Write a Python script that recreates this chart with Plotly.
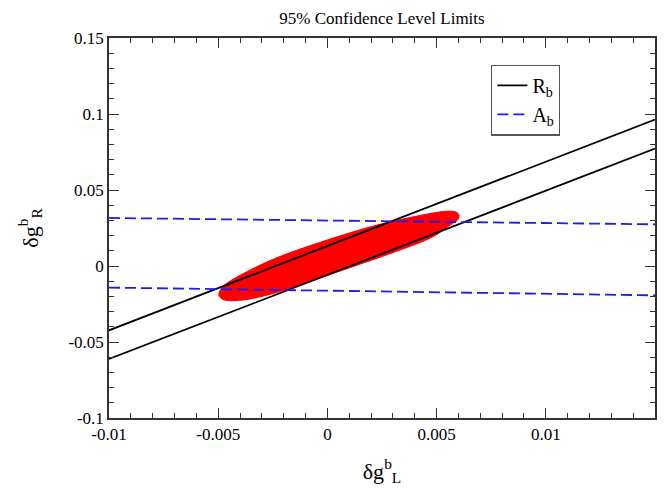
import plotly.graph_objects as go

# Axis ranges
x_range = [-0.01, 0.015]
y_range = [-0.1, 0.15]

# R_b band boundary lines (endpoints at x = -0.01 and x = 0.015)
rb_x = [-0.01, 0.015]
rb_upper_y = [-0.0423, 0.0963]
rb_lower_y = [-0.0612, 0.0772]

# A_b band boundary lines
ab_x = [-0.01, 0.015]
ab_upper_y = [0.0316, 0.0274]
ab_lower_y = [-0.0142, -0.0193]

# 95% CL allowed region outline
region_x = [-0.00498, -0.00478, -0.00356, -0.00204, -0.00052, 0.00100, 0.00253,
            0.00405, 0.00542, 0.00588, 0.00603, 0.00595, 0.00572, 0.00481,
            0.00329, 0.00177, 0.00024, -0.00128, -0.00280, -0.00402, -0.00478,
            -0.00498]
region_y = [-0.0182, -0.0134, -0.0028, 0.0070, 0.0147, 0.0217, 0.0279,
            0.0327, 0.0360, 0.0355, 0.0334, 0.0301, 0.0279, 0.0191,
            0.0103, 0.0026, -0.0050, -0.0127, -0.0193, -0.0226, -0.0221,
            -0.0193]

x_tickvals = [-0.01, -0.005, 0, 0.005, 0.01]
x_ticktext = ["-0.01", "-0.005", "0", "0.005", "0.01"]
y_tickvals = [-0.1, -0.05, 0, 0.05, 0.1, 0.15]
y_ticktext = ["-0.1", "-0.05", "0", "0.05", "0.1", "0.15"]

FONT = "Liberation Serif, Times New Roman, serif"

fig = go.Figure()

fig.add_trace(go.Scatter(
    x=region_x, y=region_y, mode="lines", fill="toself",
    fillcolor="#ff0000", line=dict(color="#ff0000", width=1, shape="spline"),
    showlegend=False, hoverinfo="skip"))

fig.add_trace(go.Scatter(
    x=rb_x, y=rb_upper_y, mode="lines", name="R<sub>b</sub>",
    line=dict(color="black", width=1.8), legendgroup="rb"))
fig.add_trace(go.Scatter(
    x=rb_x, y=rb_lower_y, mode="lines", name="R<sub>b</sub>",
    line=dict(color="black", width=1.8), legendgroup="rb", showlegend=False))

fig.add_trace(go.Scatter(
    x=ab_x, y=ab_upper_y, mode="lines", name="A<sub>b</sub>",
    line=dict(color="#1a1aff", width=1.8, dash="11px,5px"), legendgroup="ab"))
fig.add_trace(go.Scatter(
    x=ab_x, y=ab_lower_y, mode="lines", name="A<sub>b</sub>",
    line=dict(color="#1a1aff", width=1.8, dash="11px,5px"), legendgroup="ab",
    showlegend=False))

axis_common = dict(
    showgrid=False, zeroline=False, showline=True, linecolor="#333333",
    linewidth=1.5, mirror="allticks", ticks="inside", ticklen=10,
    tickwidth=1.2, tickcolor="#333333",
    tickfont=dict(family=FONT, size=17, color="black"),
)

fig.update_xaxes(
    range=x_range, tickvals=x_tickvals, ticktext=x_ticktext,
    minor=dict(ticks="inside", ticklen=5, tickwidth=1.2, tickcolor="#333333",
               dtick=0.001, tick0=0, showgrid=False),
    title=dict(text="δg<sup>b</sup><sub>L</sub>",
               font=dict(family=FONT, size=22, color="black"), standoff=20),
    **axis_common)
fig.update_yaxes(
    range=y_range, tickvals=y_tickvals, ticktext=y_ticktext,
    minor=dict(ticks="inside", ticklen=5, tickwidth=1.2, tickcolor="#333333",
               dtick=0.01, tick0=0, showgrid=False),
    title=dict(text="δg<sup>b</sup><sub>R</sub>",
               font=dict(family=FONT, size=22, color="black"), standoff=24),
    **axis_common)

fig.update_layout(
    width=672, height=489,
    margin=dict(l=101, r=25, t=30, b=79),
    paper_bgcolor="white", plot_bgcolor="white",
    title=dict(text="95% Confidence Level Limits", x=0.5, xref="paper",
               y=1 - 10 / 489, yref="container", yanchor="middle",
               font=dict(family=FONT, size=17, color="black")),
    legend=dict(x=0.70, y=0.93, xanchor="left", yanchor="top",
                bordercolor="#555555", borderwidth=1.2, bgcolor="white",
                font=dict(family=FONT, size=20, color="black"),
                tracegroupgap=0, itemwidth=30),
    showlegend=True,
)

fig.write_html("out.html")
